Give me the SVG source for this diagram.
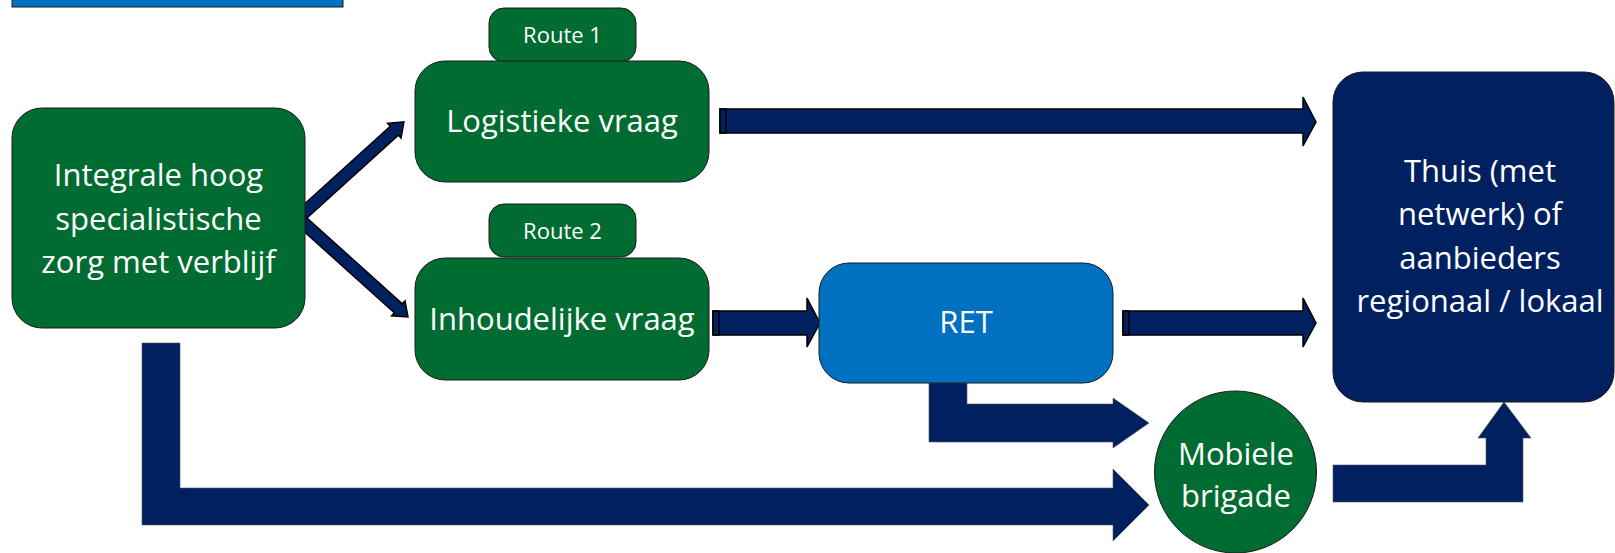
<svg xmlns="http://www.w3.org/2000/svg" width="1615" height="553" viewBox="0 0 1615 553">
  <style>
    .green { fill: #006C31; stroke: #1a1a1a; stroke-width: 1; }
    .blue { fill: #0070C0; stroke: #1a1a1a; stroke-width: 1; }
    .navy { fill: #002060; stroke: #1a1a1a; stroke-width: 1; }
    .arrow { fill: #002060; stroke: #000; stroke-width: 1.5; stroke-linejoin: miter; }
    .bigarrow { fill: #002060; stroke: #555; stroke-width: 0.6; }
    .t { font-family: "Open Sans", "Liberation Sans", sans-serif; fill: #fff; text-anchor: middle; font-size: 31px; }
    .s { font-size: 22px; }
  </style>

  <g id="top-bar">
    <rect x="12" y="-20" width="331" height="27" class="blue"/>
  </g>

  <g id="connectors">
    <path class="arrow" transform="translate(298,218) rotate(-42.2)" d="M0,-6 L130,-6 L130,-10 L143,0 L130,10 L130,6 L0,6 Z"/>
    <path class="arrow" transform="translate(298,218) rotate(42)" d="M0,-6 L135,-6 L135,-10 L148,0 L135,10 L135,6 L0,6 Z"/>
    <rect x="296" y="214" width="7" height="7" fill="none" stroke="#000" stroke-width="1" transform="rotate(-42 299.5 217.5)"/>

    <path class="arrow" d="M720,109 L1303,109 L1303,97 L1316,122 L1303,146 L1303,133 L720,133 Z"/>
    <rect x="720" y="109" width="6" height="24" fill="none" stroke="#000" stroke-width="1.5"/>

    <path class="arrow" d="M713,311 L807,311 L807,298 L820,323 L807,347 L807,335 L713,335 Z"/>
    <rect x="713" y="311" width="6" height="24" fill="none" stroke="#000" stroke-width="1.5"/>

    <path class="arrow" d="M1123,311 L1303,311 L1303,298 L1316,323 L1303,347 L1303,335 L1123,335 Z"/>
    <rect x="1123" y="311" width="6" height="24" fill="none" stroke="#000" stroke-width="1.5"/>

    <path class="bigarrow" d="M929,383 L967,383 L967,404 L1113,404 L1113,398 L1149,423 L1113,448 L1113,442 L929,442 Z"/>
    <path class="bigarrow" d="M142,343 L180,343 L180,488 L1113,488 L1113,469 L1149,505 L1113,541 L1113,525 L142,525 Z"/>
    <path class="bigarrow" d="M1333,465 L1486,465 L1486,438 L1478,438 L1504,402 L1531,438 L1523,438 L1523,502 L1333,502 Z"/>
  </g>

  <g id="node-integrale">
    <rect x="12" y="108" width="293" height="220" rx="30" class="green"/>
    <text class="t" x="158.5" y="186">Integrale hoog</text>
    <text class="t" x="158.5" y="230">specialistische</text>
    <text class="t" x="158.5" y="273">zorg met verblijf</text>
  </g>

  <g id="node-route1">
    <rect x="489" y="8" width="147" height="54" rx="15" class="green"/>
    <text class="t s" x="562.5" y="43">Route 1</text>
  </g>

  <g id="node-logistieke">
    <rect x="415" y="61" width="294" height="121" rx="30" class="green"/>
    <text class="t" x="562" y="132">Logistieke vraag</text>
  </g>

  <g id="node-route2">
    <rect x="489" y="204" width="147" height="53" rx="15" class="green"/>
    <text class="t s" x="562.5" y="239">Route 2</text>
  </g>

  <g id="node-inhoudelijke">
    <rect x="415" y="258" width="294" height="122" rx="30" class="green"/>
    <text class="t" x="562" y="330">Inhoudelijke vraag</text>
  </g>

  <g id="node-ret">
    <rect x="819" y="263" width="294" height="120" rx="30" class="blue"/>
    <text class="t" x="966" y="333">RET</text>
  </g>

  <g id="node-thuis">
    <rect x="1333" y="72" width="281" height="330" rx="30" class="navy"/>
    <text class="t" x="1480" y="182">Thuis (met</text>
    <text class="t" x="1480" y="225">netwerk) of</text>
    <text class="t" x="1480" y="269">aanbieders</text>
    <text class="t" x="1480" y="312">regionaal / lokaal</text>
  </g>

  <g id="node-mobiele">
    <circle cx="1235.5" cy="472" r="81" class="green"/>
    <text class="t" x="1236" y="465">Mobiele</text>
    <text class="t" x="1236" y="507">brigade</text>
  </g>
</svg>
